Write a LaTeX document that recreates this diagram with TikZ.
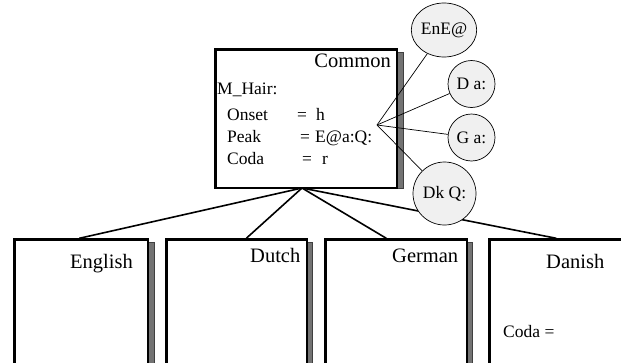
\documentclass[tikz,border=0pt]{standalone}
\usepackage{fontspec}
\setmainfont{Liberation Serif}
\usetikzlibrary{shapes.geometric}
\pgfdeclarelayer{linklayer}
\pgfdeclarelayer{boxlayer}
\pgfdeclarelayer{finelayer}
\pgfsetlayers{linklayer,boxlayer,finelayer,main}
\begin{document}
\begin{tikzpicture}[x=1pt,y=-1pt,
  box/.style={draw=black, line width=2.6pt, fill=white, anchor=north west, inner sep=0pt, minimum height=180pt},
  shadowbar/.style={fill=black!55, draw=black!75, line width=0.4pt},
  snd/.style={circle, draw=black, line width=0.7pt, fill=black!6, inner sep=0pt, font=\fontsize{17.5}{20}\selectfont},
  body/.style={font=\fontsize{17.5}{20}\selectfont, inner sep=0pt, anchor=base west},
  lang/.style={font=\fontsize{20.5}{24}\selectfont, inner sep=0pt, anchor=base west},
  boldlink/.style={line width=1.6pt},
  finelink/.style={line width=0.7pt}]
\useasboundingbox (0,0) rectangle (621,362);
\clip (0,0) rectangle (621,362);

% hubs
\coordinate (hubB) at (302,188);
\coordinate (hubC) at (377,125);

% boxes and their shadows
\begin{pgfonlayer}{boxlayer}
\fill[shadowbar] (148,242) rectangle (154,370);
\fill[shadowbar] (307,242) rectangle (312,370);
\fill[shadowbar] (467,242) rectangle (472,370);
\fill[shadowbar] (397,52) rectangle (403,188);
\node[box, minimum width=133.4pt] (english) at (13.3,238.3) {};
\node[box, minimum width=140.4pt] (dutch) at (165.3,238.3) {};
\node[box, minimum width=141.4pt] (german) at (324.3,238.3) {};
\node[box, minimum width=136.4pt] (danish) at (488.3,238.3) {};
\node[box, minimum width=181.4pt, minimum height=138.4pt] (common) at (214.3,48.3) {};
\end{pgfonlayer}

% texts in Common
\node[lang, anchor=base east] (tcommon) at (391,67) {Common};
\node[body] (mhair) at (217,94) {M\_Hair:};
\node[body] (onset) at (227,120) {Onset};
\node[body] (eq1) at (297,120) {=};
\node[body] (vh) at (316,120) {h};
\node[body] (peak) at (227,142) {Peak};
\node[body] (eq2) at (300,142) {=};
\node[body] (vpeak) at (315,142) {E@a:Q:};
\node[body] (coda) at (227,164) {Coda};
\node[body] (eq3) at (302,164) {=};
\node[body] (vr) at (322,164) {r};

% language labels
\node[lang] (tenglish) at (70,268) {English};
\node[lang] (tdutch) at (250,262) {Dutch};
\node[lang] (tgerman) at (392,262) {German};
\node[lang] (tdanish) at (546,268) {Danish};
\node[body] (dcoda) at (503,337) {Coda =};

% sound circles
\node[snd, ellipse, minimum width=58pt, minimum height=54pt] (ene) at (444,30) {EnE@};
\node[snd, minimum size=47pt] (da) at (471.5,84) {D a:};
\node[snd, minimum size=47pt] (ga) at (471.5,137.5) {G a:};
\node[snd, minimum size=63pt] (dkq) at (444.5,193.5) {Dk Q:};

% links from Common to the language boxes
\begin{pgfonlayer}{linklayer}
\draw[boldlink] (hubB) -- ([xshift=-2pt]english.north);
\draw[boldlink] (hubB) -- ([xshift=9.5pt]dutch.north);
\draw[boldlink] (hubB) -- ([xshift=-10pt]german.north);
\draw[boldlink] (hubB) -- ([xshift=-1.5pt]danish.north);
\end{pgfonlayer}

% links from Peak to the circles
\begin{pgfonlayer}{finelayer}
\draw[finelink] (hubC) -- (ene);
\draw[finelink] (hubC) -- (da);
\draw[finelink] (hubC) -- (ga);
\draw[finelink] (hubC) -- (dkq);
\end{pgfonlayer}
\end{tikzpicture}
\end{document}
